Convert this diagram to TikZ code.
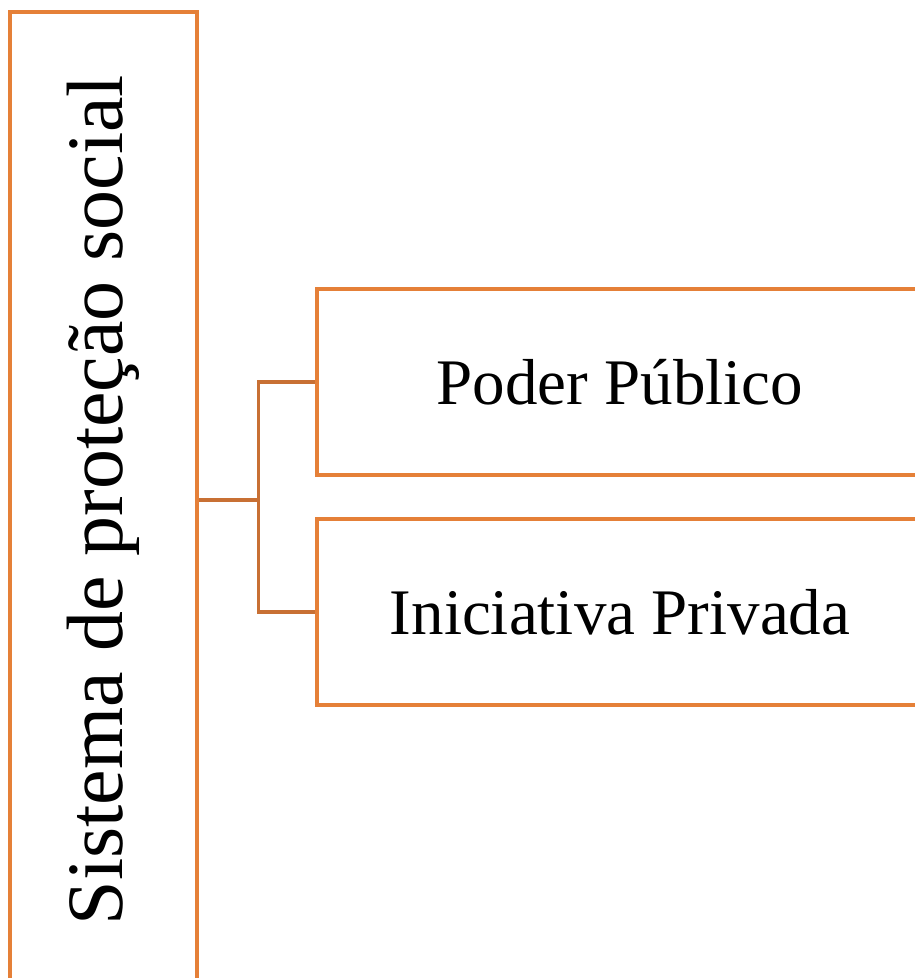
\documentclass[tikz,border=0pt]{standalone}
\usepackage{fontspec}
\setmainfont{Liberation Serif}
\usetikzlibrary{positioning,calc}
\definecolor{boxorange}{RGB}{229,128,56}
\definecolor{linkorange}{RGB}{200,112,52}

\begin{document}
\begin{tikzpicture}[
    x=0.02cm, y=-0.02cm,
    mainbox/.style={rectangle, draw=boxorange, line width=1.9pt, fill=white, rotate=90, minimum width=19.52cm, minimum height=3.74cm, font=\fontsize{45.5}{54}\selectfont},
    branch/.style={rectangle, draw=boxorange, line width=1.9pt, fill=white, minimum width=12.12cm, minimum height=3.72cm, font=\fontsize{37}{44}\selectfont},
    link/.style={draw=linkorange, line width=1.9pt}
]
\useasboundingbox (0,0) rectangle (915,978);

% Main box (rotated)
\node[mainbox] (sistema) at (103.5,500) {Sistema de proteção social};

% Branches
\node[branch] (poder) at (620,382) {Poder Público};
\node[branch] (privada) at (620,612) {Iniciativa Privada};

% Connectors
\coordinate (split) at ($(sistema.south)+(60,0)$);
\draw[link] (sistema.south) -- (split);
\draw[link] (split) |- (poder.west);
\draw[link] (split) |- (privada.west);

\end{tikzpicture}
\end{document}
